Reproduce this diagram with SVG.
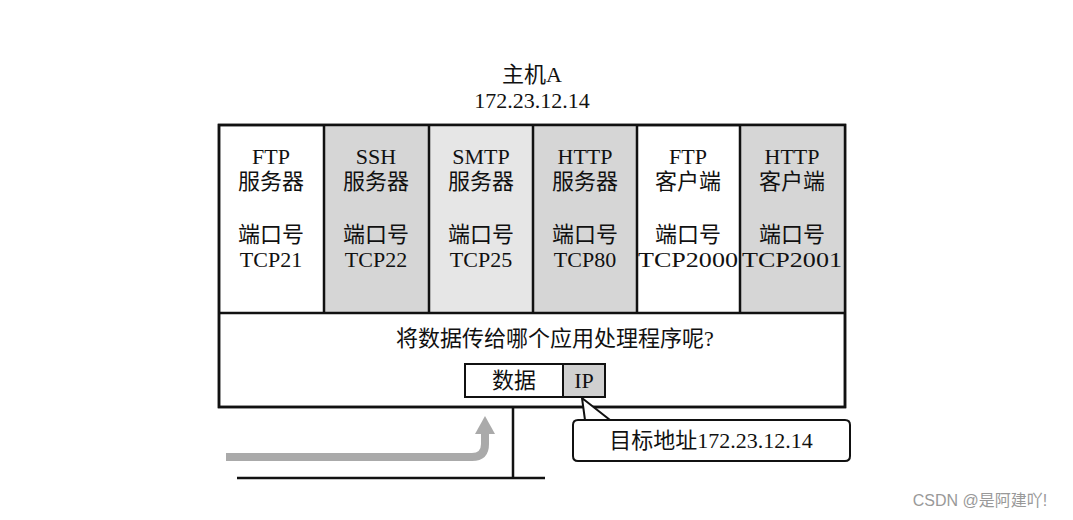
<svg xmlns="http://www.w3.org/2000/svg" width="1073" height="520" viewBox="0 0 1073 520">
<style>
text{font-family:"Liberation Serif","Noto Sans CJK SC",serif;font-size:22px;fill:#111;text-anchor:middle}
.b{stroke:#111;stroke-width:2.5;fill:none}
</style>
<rect width="1073" height="520" fill="#fff"/>
<text x="532" y="82">主机A</text>
<text x="532" y="108">172.23.12.14</text>
<g id="host">
<rect x="219" y="125" width="626" height="282" fill="#fff" class="b" style="fill:#fff"/>
<rect x="324" y="125" width="105" height="188" fill="#d6d6d6"/>
<rect x="429" y="125" width="104" height="188" fill="#e6e6e6"/>
<rect x="533" y="125" width="104" height="188" fill="#d6d6d6"/>
<rect x="740" y="125" width="105" height="188" fill="#d6d6d6"/>
<rect x="219" y="125" width="626" height="282" class="b"/>
<path d="M219 313H845M324 125V313M429 125V313M533 125V313M637 125V313M740 125V313" class="b" stroke-width="2"/>
</g>
<g id="ftp-s"><text x="271" y="164">FTP</text><text x="271" y="189">服务器</text><text x="271" y="242">端口号</text><text x="271" y="267">TCP21</text></g>
<g id="ssh-s"><text x="376" y="164">SSH</text><text x="376" y="189">服务器</text><text x="376" y="242">端口号</text><text x="376" y="267">TCP22</text></g>
<g id="smtp-s"><text x="481" y="164">SMTP</text><text x="481" y="189">服务器</text><text x="481" y="242">端口号</text><text x="481" y="267">TCP25</text></g>
<g id="http-s"><text x="585" y="164">HTTP</text><text x="585" y="189">服务器</text><text x="585" y="242">端口号</text><text x="585" y="267">TCP80</text></g>
<g id="ftp-c"><text x="688" y="164">FTP</text><text x="688" y="189">客户端</text><text x="688" y="242">端口号</text><text x="688" y="267" textLength="100" lengthAdjust="spacingAndGlyphs">TCP2000</text></g>
<g id="http-c"><text x="792" y="164">HTTP</text><text x="792" y="189">客户端</text><text x="792" y="242">端口号</text><text x="792" y="267" textLength="100" lengthAdjust="spacingAndGlyphs">TCP2001</text></g>
<text x="555" y="346">将数据传给哪个应用处理程序呢?</text>
<g id="packet">
<rect x="465" y="364" width="140" height="33" fill="#fff" stroke="#111" stroke-width="2"/>
<rect x="563" y="364" width="42" height="33" fill="#d0d0d0" stroke="#111" stroke-width="2"/>
<text x="514" y="388">数据</text><text x="584" y="388">IP</text>
</g>
<g id="connectors">
<path d="M513 407V478M237 478H545" class="b" stroke-width="3"/>
<path d="M226 457H472Q485 457 485 444V432" fill="none" stroke="#aaa" stroke-width="8"/>
<polygon points="475,434 495,434 485,416" fill="#aaa"/>
</g>
<g id="callout">
<path d="M583 420H845Q850 420 850 425V456Q850 461 845 461H578Q573 461 573 456V425Q573 420 578 420H585L582 398L610 420Z" fill="#fff" stroke="#111" stroke-width="2"/>
<text x="711" y="448">目标地址172.23.12.14</text>
</g>
<text x="980" y="506" style="font-family:'Liberation Sans','Noto Sans CJK SC',sans-serif;font-size:16px;fill:#999">CSDN @是阿建吖!</text>
</svg>
